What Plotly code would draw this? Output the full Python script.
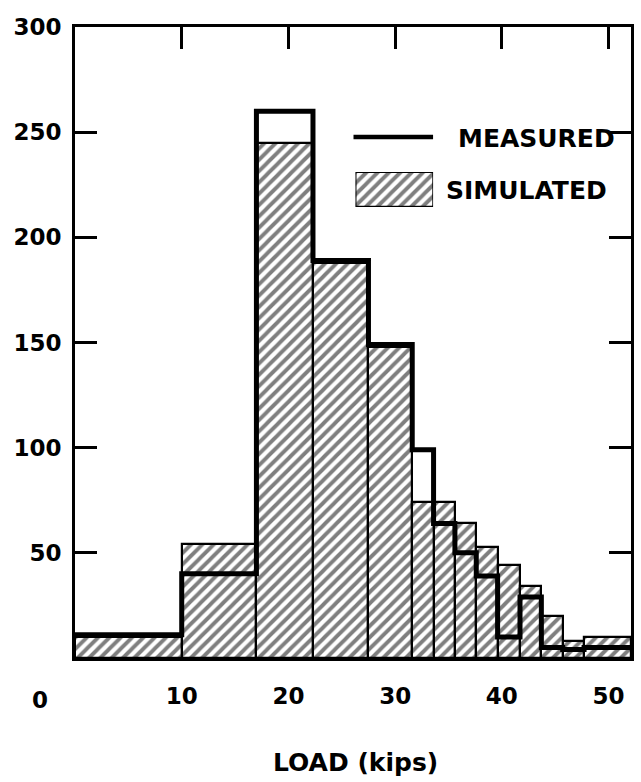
import plotly.graph_objects as go

# Histogram of LOAD (kips): bin edges and counts
bin_edges = [0, 10, 17, 22.3, 27.5, 31.6, 33.6, 35.6, 37.6, 39.6, 41.7, 43.7, 45.7, 47.7, 52.1]
simulated = [10, 54, 245, 188, 148, 74, 74, 64, 53, 44, 34, 20, 8, 10]
measured = [11, 40, 260, 189, 149, 99, 64, 50, 39, 10, 29, 5, 4, 5]

x_ticks = [10, 20, 30, 40, 50]
y_ticks = [50, 100, 150, 200, 250, 300]

centers = [(a + b) / 2 for a, b in zip(bin_edges[:-1], bin_edges[1:])]
widths = [b - a for a, b in zip(bin_edges[:-1], bin_edges[1:])]

FONT = "DejaVu Sans"
HATCH = dict(shape="/", fgcolor="black", bgcolor="white", size=8, solidity=0.48)

fig = go.Figure()

fig.add_trace(go.Bar(
    x=centers, y=simulated, width=widths, name="SIMULATED",
    marker=dict(color="white", line=dict(color="black", width=2.2), pattern=HATCH),
    showlegend=False,
))

fig.add_trace(go.Scatter(
    x=bin_edges, y=measured + [measured[-1]], mode="lines", name="MEASURED",
    line=dict(color="black", width=5, shape="hv"), showlegend=False,
))

# dummy trace so the top tick axis is drawn
fig.add_trace(go.Scatter(x=[None], y=[None], xaxis="x2", showlegend=False,
                         hoverinfo="skip"))

# legend swatch for SIMULATED (hatched box) on its own small axes
fig.add_trace(go.Bar(
    x=[0.5], y=[1], width=[1], xaxis="x3", yaxis="y3", showlegend=False,
    marker=dict(color="white", line=dict(color="black", width=2.2), pattern=HATCH),
    hoverinfo="skip",
))

L, R, T, B = 75, 7, 27, 124
W, H = 641, 782
pw, ph = W - L - R, H - T - B


def px_x(px):
    return (px - L) / pw


def px_y(py):
    return (H - B - py) / ph


TICKFONT = dict(family=FONT, size=23, weight="bold", color="black")
TEXTFONT = dict(family=FONT, size=25, weight="bold", color="black")

fig.update_layout(
    width=W, height=H,
    margin=dict(l=L, r=R, t=T, b=B),
    paper_bgcolor="white", plot_bgcolor="white",
    bargap=0,
    font=dict(family=FONT, size=23, color="black"),
    xaxis=dict(range=[0, bin_edges[-1]], tickvals=x_ticks,
               ticktext=[str(v) for v in x_ticks],
               ticks="", showgrid=False, zeroline=False,
               showline=True, linecolor="black", linewidth=3, mirror=True,
               ticklabelstandoff=15, tickfont=TICKFONT),
    xaxis2=dict(range=[0, bin_edges[-1]], overlaying="x", side="top",
                tickvals=x_ticks, ticks="inside", ticklen=22, tickwidth=3,
                tickcolor="black", showticklabels=False, showgrid=False,
                zeroline=False, showline=False),
    yaxis=dict(range=[0, 300], tickvals=y_ticks,
               ticktext=[str(v) for v in y_ticks],
               ticks="inside", ticklen=22, tickwidth=3, tickcolor="black",
               showgrid=False, zeroline=False,
               showline=True, linecolor="black", linewidth=3, mirror="ticks",
               ticklabelstandoff=6, tickfont=TICKFONT),
    xaxis3=dict(domain=[px_x(357), px_x(435)], range=[0, 1], anchor="y3",
                visible=False, fixedrange=True),
    yaxis3=dict(domain=[px_y(207), px_y(172)], range=[0, 1], anchor="x3",
                visible=False, fixedrange=True),
    shapes=[dict(type="line", xref="paper", yref="paper",
                 x0=px_x(355), x1=px_x(435), y0=px_y(137), y1=px_y(137),
                 line=dict(color="black", width=4.5))],
    annotations=[
        dict(text="MEASURED", xref="paper", yref="paper",
             x=px_x(458), y=px_y(138), xanchor="left", yanchor="middle",
             showarrow=False, font=TEXTFONT),
        dict(text="SIMULATED", xref="paper", yref="paper",
             x=px_x(446), y=px_y(190), xanchor="left", yanchor="middle",
             showarrow=False, font=TEXTFONT),
        dict(text="0", xref="paper", yref="paper", x=px_x(40), y=px_y(700),
             xanchor="center", yanchor="middle", showarrow=False,
             font=TICKFONT),
        dict(text="LOAD (kips)", xref="paper", yref="paper",
             x=px_x(357), y=px_y(762), xanchor="center", yanchor="middle",
             showarrow=False, font=TEXTFONT),
    ],
)

fig.write_html("out.html")
